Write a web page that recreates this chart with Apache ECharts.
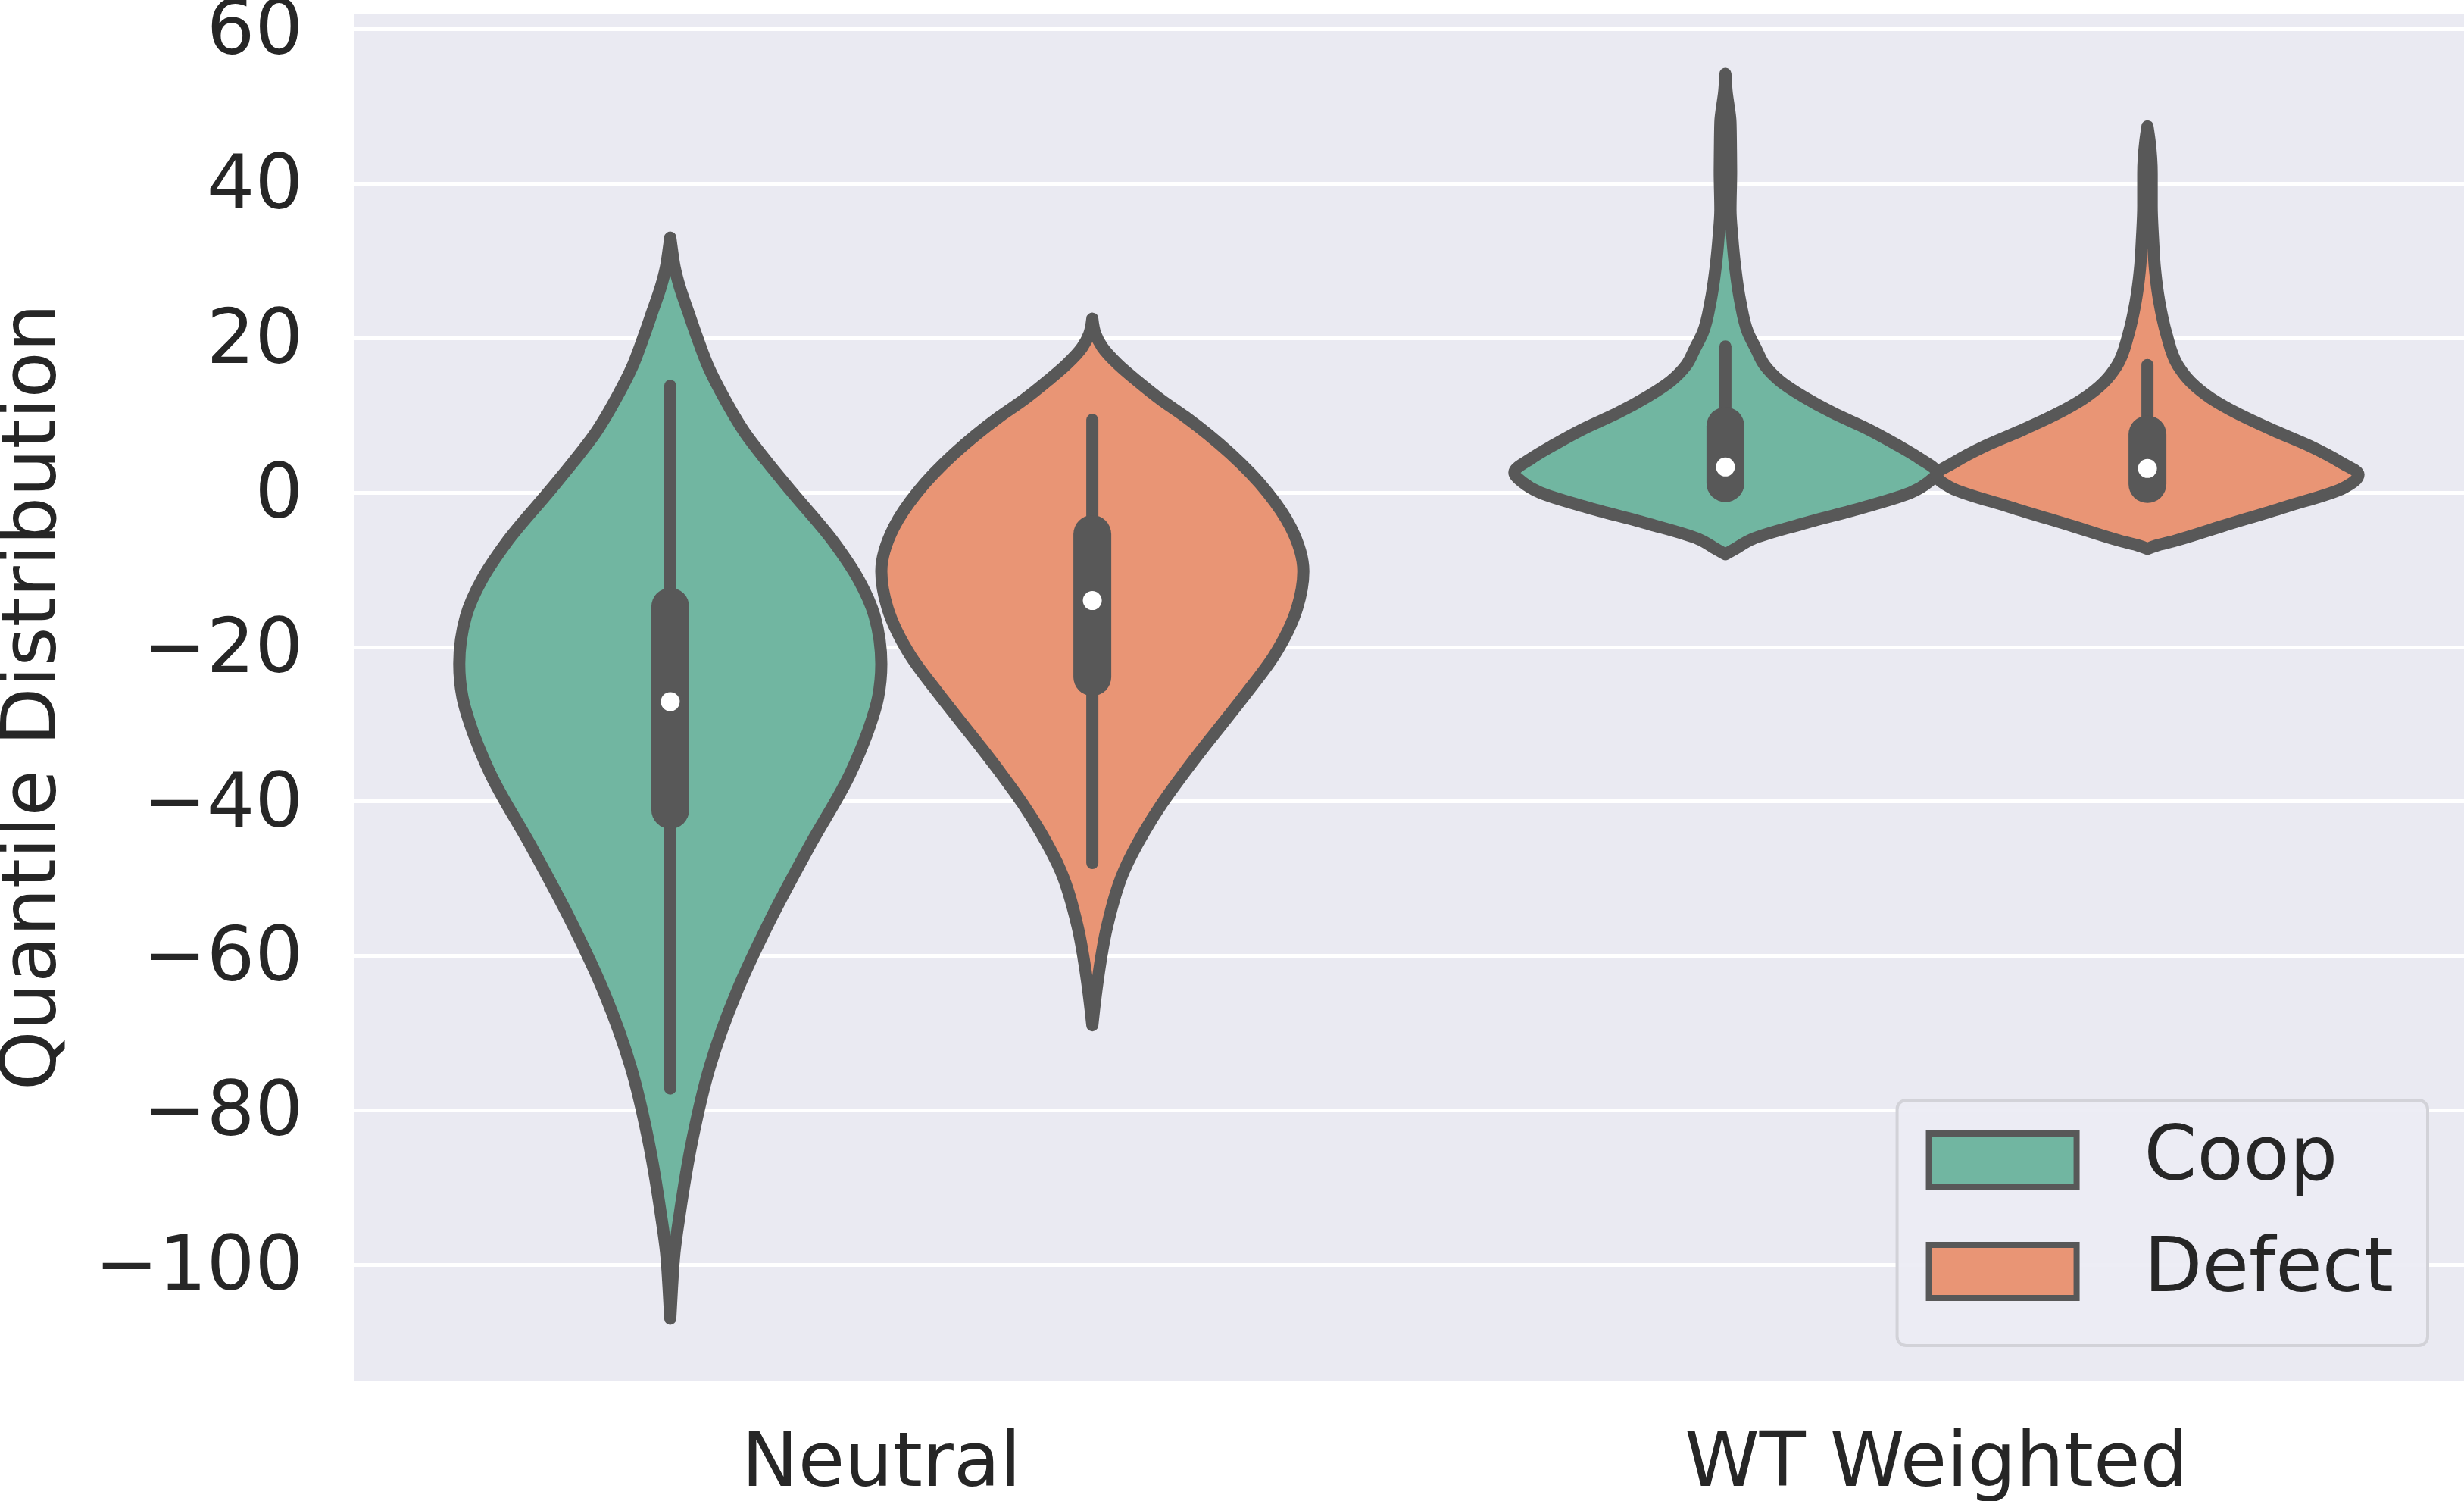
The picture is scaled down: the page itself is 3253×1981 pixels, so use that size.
<!DOCTYPE html>
<html>
<head>
    <meta charset="utf-8">
    <title>Quantile Distribution</title>
    <script type="text/javascript" src="https://cdn.jsdelivr.net/npm/echarts@6/dist/echarts.min.js"></script>
    <style type="text/css">
        body{ margin:0; background:#ffffff; }
        #main{ width:3253px; height:1981px; }
    </style>
</head>
<body>
    <div id="main"></div>
    <script type="text/javascript">
        // categories and hues
        var categories = ['Neutral', 'WT Weighted'];
        var hues = ['Coop', 'Defect'];
        var yTicks = [-100, -80, -60, -40, -20, 0, 20, 40, 60];

        // violin outlines: [value, width relative to widest point]
        var neutralCoopDensity = [
            [33.0, 0], [31.6, 0.007], [29, 0.022], [26.6, 0.045], [23.4, 0.085], [20.1, 0.127],
            [16.1, 0.183], [12.5, 0.25], [7.8, 0.352], [4.0, 0.458], [0.2, 0.572], [-6.5, 0.777],
            [-11.3, 0.893], [-16, 0.968], [-22.2, 1.0], [-26.5, 0.985], [-30.3, 0.945], [-33.5, 0.9],
            [-36.3, 0.855], [-45.8, 0.66], [-55.3, 0.475], [-64.8, 0.313], [-74.4, 0.187],
            [-83.9, 0.104], [-93.4, 0.045], [-98.4, 0.02], [-103, 0.008], [-107, 0]
        ];
        var neutralDefectDensity = [
            [22.5, 0], [20.5, 0.015], [18.8, 0.048], [16.5, 0.125], [14.5, 0.21], [12, 0.325],
            [9.8, 0.44], [5.0, 0.655], [0, 0.83], [-4.5, 0.94], [-10.2, 1.0], [-15, 0.97],
            [-21.2, 0.86], [-26, 0.73], [-30, 0.615], [-33.1, 0.525], [-36.5, 0.43], [-40.3, 0.33],
            [-44, 0.245], [-49, 0.15], [-56.2, 0.07], [-63.3, 0.025], [-67, 0.008], [-69, 0]
        ];
        var wtCoopDensity = [
            [54.2, 0], [52.1, 0.005], [47.9, 0.024], [44.5, 0.026], [41.6, 0.027], [36.6, 0.024],
            [33.2, 0.032], [29.0, 0.047], [24.8, 0.07], [20.7, 0.107], [18.6, 0.145], [16.5, 0.185],
            [14.4, 0.26], [12.4, 0.37], [10.3, 0.51], [8.2, 0.675], [6.2, 0.81], [4.4, 0.92],
            [2.6, 1.0], [1.3, 0.96], [0, 0.88], [-1.9, 0.66], [-4.1, 0.36], [-6.0, 0.13],
            [-7.4, 0.04], [-8.0, 0]
        ];
        var wtDefectDensity = [
            [47.4, 0], [45.5, 0.01], [41.3, 0.02], [37.1, 0.02], [33.0, 0.026], [28.8, 0.036],
            [24.7, 0.056], [20.5, 0.09], [16.4, 0.145], [14.3, 0.205], [12.2, 0.30], [10.1, 0.435],
            [8.0, 0.60], [6.0, 0.77], [3.9, 0.915], [2.3, 1.0], [0.6, 0.93], [-1.9, 0.65],
            [-4.4, 0.35], [-6.3, 0.125], [-6.9, 0.04], [-7.3, 0]
        ];

        // inner box: [whisker low, q1, median, q3, whisker high]
        var neutralCoopBox = [-77.2, -41.1, -27.1, -14.8, 13.8];
        var neutralDefectBox = [-48.0, -23.9, -14.0, -5.4, 9.4];
        var wtCoopBox = [0.4, 1.2, 3.3, 8.6, 18.9];
        var wtDefectBox = [0.4, 1.1, 3.1, 7.5, 16.5];

        var densities = [[neutralCoopDensity, wtCoopDensity], [neutralDefectDensity, wtDefectDensity]];
        var boxes = [[neutralCoopBox, wtCoopBox], [neutralDefectBox, wtDefectBox]];

        var fillColors = ['#71b6a1', '#e99575'];
        var lineColor = '#585858';
        var textColor = '#262626';
        var font = 'DejaVu Sans';

        function sgn(v) { return v < 0 ? -1 : 1; }

        // monotone cubic slopes of offset against pixel y
        function slopes(ys, xs) {
            var n = ys.length, m = [], h = [], d = [];
            for (var i = 0; i < n - 1; i++) {
                h[i] = ys[i + 1] - ys[i];
                d[i] = h[i] ? (xs[i + 1] - xs[i]) / h[i] : 0;
            }
            for (var k = 1; k < n - 1; k++) {
                if (d[k - 1] * d[k] <= 0) { m[k] = 0; continue; }
                var p = (d[k - 1] * h[k] + d[k] * h[k - 1]) / (h[k - 1] + h[k]);
                m[k] = (sgn(d[k - 1]) + sgn(d[k])) * Math.min(Math.abs(d[k - 1]), Math.abs(d[k]), 0.5 * Math.abs(p));
            }
            m[0] = (3 * d[0] - m[1]) / 2;
            m[n - 1] = (3 * d[n - 2] - m[n - 2]) / 2;
            return m;
        }

        function violinPath(cx, ys, offs) {
            var n = ys.length, m = slopes(ys, offs), i, h;
            var d = 'M' + (cx + offs[0]) + ',' + ys[0];
            for (i = 0; i < n - 1; i++) {
                h = ys[i + 1] - ys[i];
                d += 'C' + (cx + offs[i] + m[i] * h / 3) + ',' + (ys[i] + h / 3) + ',' +
                    (cx + offs[i + 1] - m[i + 1] * h / 3) + ',' + (ys[i + 1] - h / 3) + ',' +
                    (cx + offs[i + 1]) + ',' + ys[i + 1];
            }
            for (i = n - 2; i >= 0; i--) {
                h = ys[i + 1] - ys[i];
                d += 'C' + (cx - offs[i + 1] + m[i + 1] * h / 3) + ',' + (ys[i + 1] - h / 3) + ',' +
                    (cx - offs[i] - m[i] * h / 3) + ',' + (ys[i] + h / 3) + ',' +
                    (cx - offs[i]) + ',' + ys[i];
            }
            return d + 'Z';
        }

        function makeRender(h) {
            return function (params, api) {
                var cat = api.value(0);
                var dens = densities[h][cat];
                var box = boxes[h][cat];
                var band = api.size([1, 0])[0];
                var half = 0.2 * band;
                var cx = api.coord([cat, 0])[0] + (h === 0 ? -0.2 : 0.2) * band;
                var y = function (v) { return api.coord([cat, v])[1]; };
                var ys = dens.map(function (p) { return y(p[0]); });
                var offs = dens.map(function (p) { return p[1] * half; });
                return {
                    type: 'group',
                    children: [{
                        type: 'path',
                        shape: { pathData: violinPath(cx, ys, offs) },
                        style: { fill: fillColors[h], stroke: lineColor, lineWidth: 16, lineJoin: 'round' }
                    }, {
                        type: 'line',
                        shape: { x1: cx, y1: y(box[0]), x2: cx, y2: y(box[4]) },
                        style: { stroke: lineColor, lineWidth: 16, lineCap: 'round' }
                    }, {
                        type: 'line',
                        shape: { x1: cx, y1: y(box[1]), x2: cx, y2: y(box[3]) },
                        style: { stroke: lineColor, lineWidth: 50, lineCap: 'round' }
                    }, {
                        type: 'circle',
                        shape: { cx: cx, cy: y(box[2]), r: 12.5 },
                        style: { fill: '#ffffff' }
                    }]
                };
            };
        }

        var container = document.getElementById('main');
        var myChart = echarts.init(container, null, { renderer: 'canvas' });

        var option = {
            backgroundColor: '#ffffff',
            animation: false,
            grid: {
                left: 467, right: 0, top: 16, bottom: 157,
                show: true, backgroundColor: '#eaeaf2', borderWidth: 0,
                outerBoundsMode: 'none'
            },
            legend: {
                orient: 'vertical',
                right: 48,
                bottom: 205,
                padding: [29, 45, 48, 38],
                itemWidth: 195,
                itemHeight: 70,
                itemGap: 47,
                icon: 'rect',
                backgroundColor: 'rgba(236,236,244,0.92)',
                borderColor: '#d2d2d8',
                borderWidth: 4,
                borderRadius: 12,
                textStyle: { fontFamily: font, fontSize: 100, color: textColor, lineHeight: 100, padding: [0, 0, 0, 84] },
                data: [
                    { name: 'Coop', itemStyle: { color: fillColors[0], borderColor: lineColor, borderWidth: 8 } },
                    { name: 'Defect', itemStyle: { color: fillColors[1], borderColor: lineColor, borderWidth: 8 } }
                ]
            },
            xAxis: {
                type: 'category',
                data: categories,
                boundaryGap: true,
                axisLine: { show: false },
                axisTick: { show: false },
                splitLine: { show: false },
                axisLabel: { fontFamily: font, fontSize: 100, color: textColor, margin: 61 }
            },
            yAxis: {
                type: 'value',
                min: -115.2,
                max: 62.2,
                splitNumber: 9,
                minInterval: 20,
                maxInterval: 20,
                name: 'Quantile Distribution',
                nameLocation: 'middle',
                nameGap: 370,
                nameTextStyle: { fontFamily: font, fontSize: 100, color: textColor },
                axisLine: { show: false },
                axisTick: { show: false },
                splitLine: { show: true, lineStyle: { color: '#ffffff', width: 5 } },
                axisLabel: {
                    fontFamily: font, fontSize: 100, color: textColor, margin: 67,
                    verticalAlign: 'top', lineHeight: 14,
                    showMinLabel: false, showMaxLabel: false,
                    formatter: function (v) {
                        if (yTicks.indexOf(v) < 0) return '';
                        return v < 0 ? '\u2212' + Math.abs(v) : String(v);
                    }
                }
            },
            series: hues.map(function (name, h) {
                return {
                    name: name,
                    type: 'custom',
                    renderItem: makeRender(h),
                    itemStyle: { color: fillColors[h] },
                    encode: { x: 0, y: 1 },
                    data: categories.map(function (c, i) { return [i, 0]; }),
                    z: 2 + h
                };
            })
        };

        myChart.setOption(option);
    </script>
</body>
</html>
